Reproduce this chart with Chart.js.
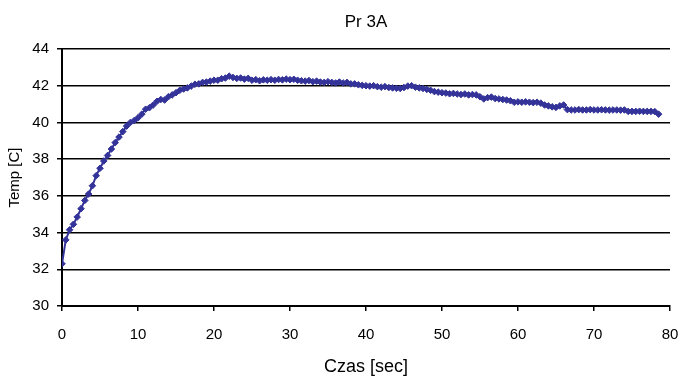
<!DOCTYPE html>
<html>
<head>
<meta charset="utf-8">
<script src="https://cdn.jsdelivr.net/npm/chart.js@4.4.0/dist/chart.umd.min.js"></script>
<style>
  html, body { margin: 0; padding: 0; background: #fff; }
  #wrap { width: 681px; height: 378px; }
</style>
</head>
<body>
<div id="wrap"><canvas id="chart" width="681" height="378"></canvas></div>
<script>
// Pr 3A - temperature vs time, sampled every 0.5 s
const chartTitle = 'Pr 3A';
const sampleStep = 0.5;
const temps = [
  32.3, 33.6, 34.15, 34.45, 34.85, 35.3, 35.75, 36.1, 36.55, 37.1,
  37.5, 37.9, 38.2, 38.55, 38.9, 39.2, 39.5, 39.8, 40.0, 40.1,
  40.25, 40.45, 40.72, 40.8, 40.95, 41.15, 41.25, 41.22, 41.4, 41.5,
  41.62, 41.75, 41.82, 41.88, 41.98, 42.08, 42.1, 42.18, 42.2, 42.25,
  42.3, 42.3, 42.38, 42.42, 42.52, 42.45, 42.4, 42.42, 42.36, 42.4,
  42.3, 42.33, 42.27, 42.32, 42.3, 42.33, 42.3, 42.34, 42.32, 42.36,
  42.33, 42.35, 42.3, 42.27, 42.25, 42.28, 42.22, 42.25, 42.2, 42.18,
  42.22, 42.18, 42.15, 42.2, 42.15, 42.18, 42.1, 42.1, 42.05, 42.02,
  42.0, 41.98, 42.0, 41.95, 41.92, 41.95, 41.9, 41.88, 41.86, 41.85,
  41.9, 41.98, 42.0, 41.92, 41.88, 41.85, 41.8, 41.75, 41.68, 41.65,
  41.62, 41.6, 41.56, 41.58, 41.55, 41.52, 41.55, 41.5, 41.52, 41.5,
  41.4, 41.28, 41.35, 41.38, 41.3, 41.28, 41.25, 41.22, 41.18, 41.1,
  41.12, 41.1, 41.12, 41.1, 41.08, 41.1, 41.05, 40.95, 40.9, 40.85,
  40.82, 40.9, 40.95, 40.7, 40.68, 40.68, 40.7, 40.68, 40.68, 40.7,
  40.68, 40.68, 40.69, 40.68, 40.67, 40.68, 40.68, 40.67, 40.68, 40.6,
  40.6, 40.6, 40.61, 40.6, 40.6, 40.6, 40.59, 40.45
];
const xTicks = [0, 10, 20, 30, 40, 50, 60, 70, 80];
const yTicks = [30, 32, 34, 36, 38, 40, 42, 44];

const points = temps.map((t, i) => ({ x: i * sampleStep, y: t }));
const fontFamily = '"Liberation Sans", Arial, sans-serif';

// title centred over the plot area, not the canvas
const plotTitle = {
  id: 'plotTitle',
  afterDraw(chart) {
    const { ctx, chartArea } = chart;
    ctx.save();
    ctx.fillStyle = '#000';
    ctx.font = '17px ' + fontFamily;
    ctx.textAlign = 'center';
    ctx.textBaseline = 'middle';
    ctx.fillText(chartTitle, (chartArea.left + chartArea.right) / 2, 22);
    ctx.restore();
  }
};

new Chart(document.getElementById('chart'), {
  type: 'line',
  data: {
    datasets: [{
      data: points,
      borderColor: '#333399',
      backgroundColor: '#333399',
      borderWidth: 2,
      pointStyle: 'rectRot',
      pointRadius: 3.3,
      pointBorderWidth: 1,
      tension: 0
    }]
  },
  options: {
    responsive: false,
    animation: false,
    layout: { padding: { top: 49, right: 11, left: 0, bottom: 0 } },
    plugins: { legend: { display: false }, tooltip: { enabled: false } },
    scales: {
      x: {
        type: 'linear',
        min: 0,
        max: 80,
        afterBuildTicks: s => { s.ticks = xTicks.map(v => ({ value: v })); },
        afterFit: s => { s.height = 72; s.paddingLeft = 0; s.paddingRight = 0; },
        ticks: { color: '#000', font: { family: fontFamily, size: 15 }, padding: 15, maxRotation: 0 },
        grid: { drawOnChartArea: false, drawTicks: true, tickLength: 5, color: '#000', lineWidth: 1.5 },
        border: { color: '#000', width: 2 },
        title: { display: true, text: 'Czas [sec]', color: '#000', font: { family: fontFamily, size: 18 }, padding: { top: 0, bottom: 0 } }
      },
      y: {
        min: 30,
        max: 44,
        afterBuildTicks: s => { s.ticks = yTicks.map(v => ({ value: v })); },
        afterFit: s => { s.width = 62; },
        ticks: { color: '#000', font: { family: fontFamily, size: 15 }, padding: 8 },
        grid: { color: '#000', lineWidth: 1.5, tickLength: 5 },
        border: { color: '#000', width: 2 },
        title: { display: true, text: 'Temp [C]', color: '#000', font: { family: fontFamily, size: 15 }, padding: { top: 6, bottom: 0 } }
      }
    }
  },
  plugins: [plotTitle]
});
</script>
</body>
</html>
